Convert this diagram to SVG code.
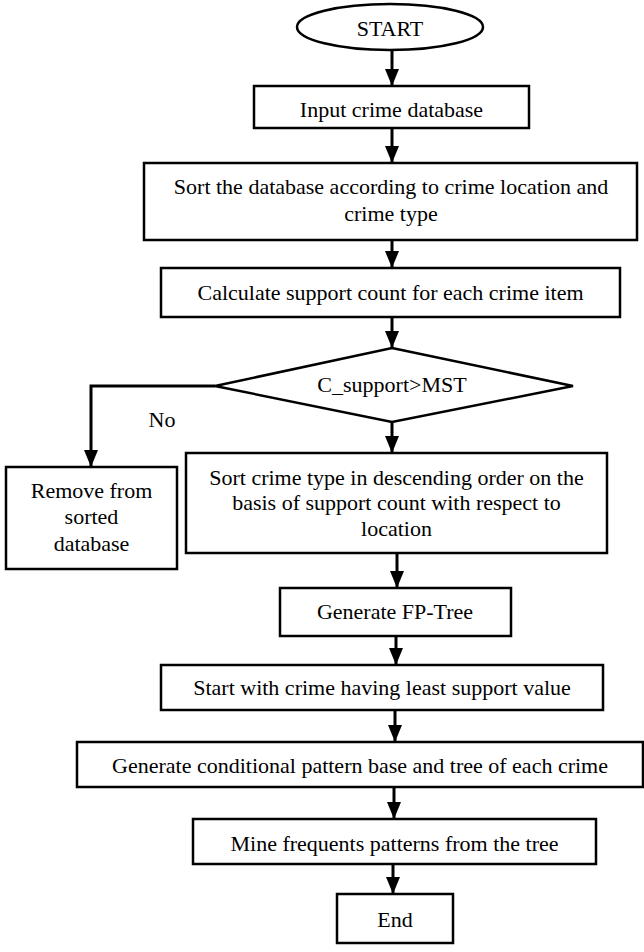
<svg xmlns="http://www.w3.org/2000/svg" width="644" height="952" viewBox="0 0 644 952">
<defs>
<style>
.box{fill:#fff;stroke:#000;stroke-width:2.5}
.t{font-family:'Liberation Serif','Times New Roman',Times,'DejaVu Serif',serif;font-size:22px;fill:#000;text-anchor:middle}
.c{fill:none;stroke:#000;stroke-width:3}
</style>
<marker id="ah" viewBox="0 0 17 14" refX="17" refY="7" markerWidth="17" markerHeight="14" markerUnits="userSpaceOnUse" orient="auto">
<path d="M0,0 L17,7 L0,14 z" fill="#000"/>
</marker>
</defs>
<rect width="644" height="952" fill="#fff"/>
<g id="connectors">
<path class="c" d="M392,50 V86" marker-end="url(#ah)"/>
<path class="c" d="M392,128 V163" marker-end="url(#ah)"/>
<path class="c" d="M392,240 V268" marker-end="url(#ah)"/>
<path class="c" d="M392,317 V348" marker-end="url(#ah)"/>
<path class="c" d="M215,386 H91 V467" marker-end="url(#ah)"/>
<path class="c" d="M392,422 V453" marker-end="url(#ah)"/>
<path class="c" d="M397,553 V588" marker-end="url(#ah)"/>
<path class="c" d="M396,636 V665" marker-end="url(#ah)"/>
<path class="c" d="M395,710 V742" marker-end="url(#ah)"/>
<path class="c" d="M394,787 V819" marker-end="url(#ah)"/>
<path class="c" d="M393,864 V894" marker-end="url(#ah)"/>
<text class="t" x="162" y="427" font-family="Liberation Serif, serif">No</text>
</g>
<g id="start">
<ellipse class="box" cx="390" cy="27" rx="93" ry="23"/>
<text class="t" x="390" y="36" font-family="Liberation Serif, serif">START</text>
</g>
<g id="input">
<rect class="box" x="254" y="86" width="275" height="42"/>
<text class="t" x="391.5" y="117" font-family="Liberation Serif, serif">Input crime database</text>
</g>
<g id="sortdb">
<rect class="box" x="144" y="163" width="493" height="77"/>
<text class="t" x="391" y="194" font-family="Liberation Serif, serif">Sort the database according to crime location and</text>
<text class="t" x="391" y="221" font-family="Liberation Serif, serif">crime type</text>
</g>
<g id="calc">
<rect class="box" x="161" y="268" width="459" height="49"/>
<text class="t" x="390.5" y="300" font-family="Liberation Serif, serif">Calculate support count for each crime item</text>
</g>
<g id="decision">
<polygon class="box" points="392,348 573,386 392,422 215,386"/>
<text class="t" x="392" y="392" font-family="Liberation Serif, serif">C_support&gt;MST</text>
</g>
<g id="remove">
<rect class="box" x="6" y="467" width="171" height="102"/>
<text class="t" x="91.5" y="498" font-family="Liberation Serif, serif">Remove from</text>
<text class="t" x="91.5" y="524" font-family="Liberation Serif, serif">sorted</text>
<text class="t" x="91.5" y="551" font-family="Liberation Serif, serif">database</text>
</g>
<g id="sortcrime">
<rect class="box" x="186" y="453" width="421" height="100"/>
<text class="t" x="396.5" y="485" font-family="Liberation Serif, serif">Sort crime type in descending order on the</text>
<text class="t" x="396.5" y="510" font-family="Liberation Serif, serif">basis of support count with respect to</text>
<text class="t" x="396.5" y="536" font-family="Liberation Serif, serif">location</text>
</g>
<g id="fptree">
<rect class="box" x="280" y="588" width="231" height="48"/>
<text class="t" x="395" y="619" font-family="Liberation Serif, serif">Generate FP-Tree</text>
</g>
<g id="startwith">
<rect class="box" x="161" y="665" width="442" height="45"/>
<text class="t" x="382" y="695" font-family="Liberation Serif, serif">Start with crime having least support value</text>
</g>
<g id="generate">
<rect class="box" x="77" y="742" width="566" height="45"/>
<text class="t" x="360" y="773" font-family="Liberation Serif, serif">Generate conditional pattern base and tree of each crime</text>
</g>
<g id="mine">
<rect class="box" x="193" y="819" width="403" height="45"/>
<text class="t" x="394.5" y="851" font-family="Liberation Serif, serif">Mine frequents patterns from the tree</text>
</g>
<g id="end">
<rect class="box" x="337" y="894" width="116" height="49"/>
<text class="t" x="395" y="927" font-family="Liberation Serif, serif">End</text>
</g>
</svg>
